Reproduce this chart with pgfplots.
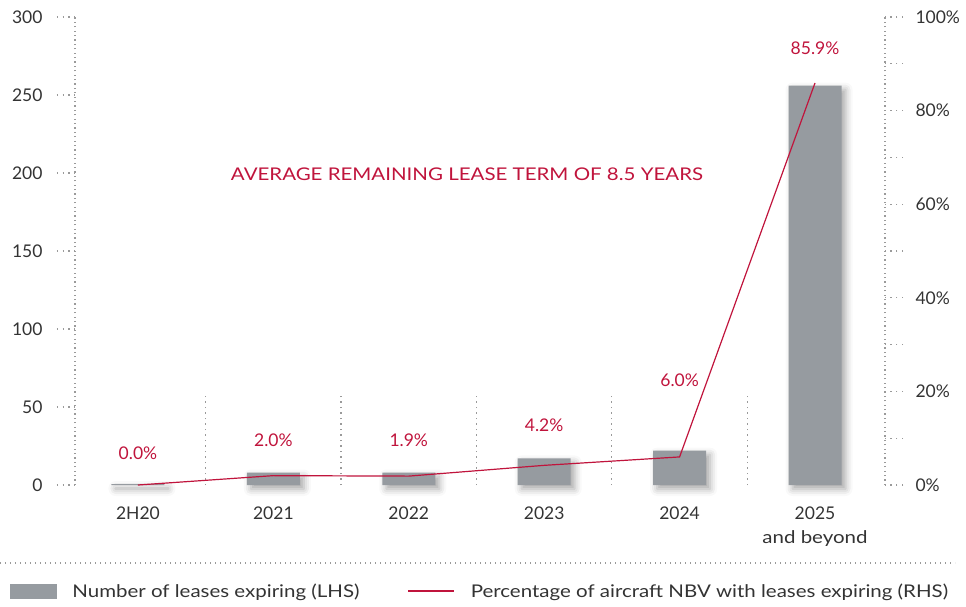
\documentclass[border=0pt]{standalone}
\usepackage{fontspec}
\setmainfont{Lato}[FakeStretch=1.17]
\newfontfamily\numfont{Lato}
\usepackage{pgfplots}
\pgfplotsset{compat=1.18}
\usetikzlibrary{shadows.blur}
\definecolor{barc}{HTML}{969BA0}
\definecolor{redc}{HTML}{C0143C}
\definecolor{txt}{HTML}{333333}
\definecolor{dotc}{HTML}{9A9A9A}
\begin{document}
\begin{tikzpicture}[font=\fontsize{17.5}{24}\selectfont]
\path[use as bounding box] (-75pt,-121pt) rectangle (891pt,485pt);
\pgfplotsset{
 common/.style={
  at={(0pt,0pt)}, anchor=south west, scale only axis, width=810pt, height=468pt,
  xmin=-0.465, xmax=5.517,
  /pgf/number format/assume math mode=true,
  ticklabel style={text=txt, font=\numfont\fontsize{17.5}{24}\selectfont},
  tick align=outside,
  major tick length=18pt,
  ytick style={dotc, dash pattern=on 1.2pt off 4.5pt, line width=1.2pt},
  clip=false,
 }
}
\begin{axis}[common,
  axis y line*=left, axis x line*=bottom,
  x axis line style={draw=none},
  y axis line style={dotc, dash pattern=on 1.2pt off 3.2pt, line width=1.2pt},
  ymin=0, ymax=300, ytick={0,50,...,300},
  yticklabel style={xshift=-11pt},
  xtick={0,...,5},
  xticklabels={2H20,2021,2022,2023,2024,{2025\\{\fontspec{Lato}[FakeStretch=1.17]and beyond}}},
  xticklabel style={align=center, anchor=north},
  xtick style={draw=none},
  ybar, bar width=53pt,
]
\addplot[fill=barc, draw=none, blur shadow={shadow xshift=4pt, shadow yshift=-4pt, shadow blur radius=7pt, shadow opacity=35}] coordinates {(0,0.6) (1,8) (2,8) (3,17) (4,22) (5,256)};
\foreach \xx in {0.5,1.5,2.5,3.5,4.5}{
  \edef\tmp{\noexpand\draw[dotc, dash pattern=on 1.2pt off 4.3pt, line width=1.2pt] (axis cs:\xx,0) -- (axis cs:\xx,58);}\tmp
}
\node[text=redc] at (axis cs:2.43,199.4) {AVERAGE REMAINING LEASE TERM OF 8.5 YEARS};
\begin{scope}[every node/.style={text=redc, font=\numfont\fontsize{17.5}{24}\selectfont}]
\node at (axis cs:0,20.5) {0.0\%};
\node at (axis cs:1,29) {2.0\%};
\node at (axis cs:2,29) {1.9\%};
\node at (axis cs:3,38) {4.2\%};
\node at (axis cs:4,67) {6.0\%};
\node at (axis cs:5,280) {85.9\%};
\end{scope}
\end{axis}
\begin{axis}[common,
  axis y line*=right, axis x line=none,
  y axis line style={dotc, dash pattern=on 1.2pt off 3.2pt, line width=1.2pt},
  ymin=0, ymax=100, ytick={0,10,...,100},
  yticklabels={0\%,,20\%,,40\%,,60\%,,80\%,,100\%},
  yticklabel style={xshift=9pt},
  legend style={at={(-0.0803,-0.2265)}, anchor=west, draw=none, fill=none,
    inner sep=0pt, outer sep=0pt, text=txt, font=\fontsize{17.5}{24}\selectfont,
    /tikz/every odd column/.append style={column sep=14pt},
    /tikz/every even column/.append style={column sep=46pt}},
  legend columns=2, legend cell align=left,
]
\addlegendimage{legend image code/.code={\fill[barc] (0pt,-7pt) rectangle (46pt,7pt);}}
\addlegendentry{Number of leases expiring (LHS)}
\addplot[redc, line width=1.2pt, mark=none, legend image code/.code={\draw[redc, line width=1.2pt] (0pt,0pt) -- (46pt,0pt);}] coordinates {(0,0) (1,2.0) (2,1.9) (3,4.2) (4,6.0) (5,85.9)};
\addlegendentry{Percentage of aircraft NBV with leases expiring (RHS)}
\end{axis}
\draw[dotc, dash pattern=on 1.2pt off 3.8pt, line width=1.2pt] (-75pt,-78pt) -- (880pt,-78pt);
\end{tikzpicture}
\end{document}
